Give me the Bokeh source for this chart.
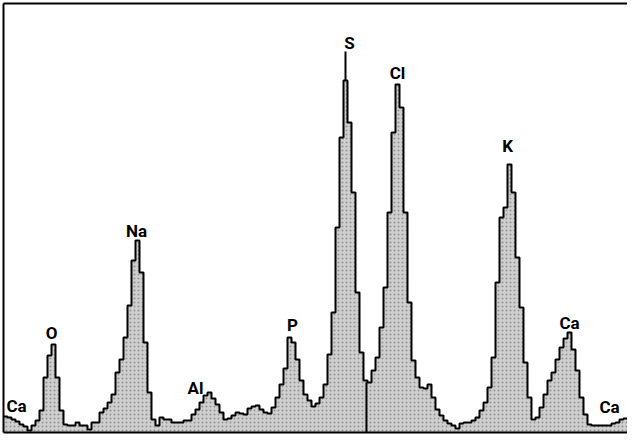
from bokeh.plotting import figure
from bokeh.models import Range1d, LinearAxis, FixedTicker
from bokeh.core.properties import value
from bokeh.embed import file_html
from bokeh.resources import INLINE

# EDS spectrum: channel start (keV), channel width (keV), counts per channel (arbitrary units)
channel_start_kev = 0.2125
channel_width_kev = 0.025
counts = [
    16, 15, 13, 11, 8, 6, 2, 7, 12, 22, 55, 77, 88, 55, 22, 8, 7, 7, 10, 7,
    7, 3, 10, 10, 20, 24, 30, 38, 60, 73, 95, 127, 172, 192, 160, 90, 40, 13, 7, 15,
    13, 13, 10, 10, 10, 12, 12, 18, 23, 30, 37, 40, 34, 28, 20, 13, 14, 17, 20, 19,
    18, 24, 26, 27, 23, 20, 19, 25, 35, 48, 64, 95, 90, 73, 52, 38, 32, 26, 29, 35,
    48, 78, 120, 205, 295, 352, 310, 240, 140, 80, 52, 50, 62, 75, 105, 145, 220, 300, 348, 325,
    220, 130, 72, 55, 45, 44, 48, 35, 23, 17, 12, 9, 7, 4, 9, 10, 10, 12, 15, 22,
    30, 45, 75, 150, 215, 225, 268, 240, 175, 125, 70, 35, 13, 15, 25, 38, 52, 60, 73, 85,
    94, 100, 83, 62, 35, 18, 8, 7, 7, 7, 7, 7, 9, 10, 13, 14,
]

# peak labels
label_names = ["Ca", "O", "Na", "Al", "P", "S", "Cl", "K", "Ca", "Ca"]
label_kev = [0.294, 0.513, 1.044, 1.413, 2.019, 2.375, 2.675, 3.363, 3.75, 4.0]
label_counts = [27, 100, 202, 45, 108, 390, 360, 287, 110, 26]

# marker lines (peak marker above S, cursor between S and Cl)
marker_kev = [2.35, 2.481]
marker_bottom = [352, 0]
marker_top = [381, 50]

x_start = channel_start_kev
x_end = channel_start_kev + channel_width_kev * len(counts)

edges = [channel_start_kev + channel_width_kev * i for i in range(len(counts) + 1)]
vals = counts + [counts[-1]]

p = figure(width=627, height=437, output_backend="svg", toolbar_location=None,
           x_range=Range1d(x_start, x_end), y_range=Range1d(0, 429),
           min_border_left=3, min_border_right=0, min_border_top=3, min_border_bottom=5,
           background_fill_color="white", border_fill_color="white")
p.outline_line_color = None
p.grid.visible = False

def style_axis(ax):
    ax.ticker = FixedTicker(ticks=[])
    ax.major_tick_out = 0
    ax.major_tick_in = 0
    ax.minor_tick_out = 0
    ax.minor_tick_in = 0
    ax.major_label_text_font_size = "0px"
    ax.major_label_standoff = 0
    ax.axis_line_width = 2
    ax.axis_line_color = "black"

for ax in p.xaxis + p.yaxis:
    style_axis(ax)
top_axis = LinearAxis()
style_axis(top_axis)
p.add_layout(top_axis, "above")

p.varea_step(x=edges, y1=[0] * len(vals), y2=vals, step_mode="after",
             fill_color="#cfcfcf", hatch_pattern=".", hatch_color="#555555",
             hatch_alpha=0.5, hatch_scale=4, hatch_weight=1)
p.step(x=edges, y=vals, mode="after", line_color="black", line_width=2)

p.segment(x0=marker_kev, y0=marker_bottom, x1=marker_kev, y1=marker_top,
          line_color="black", line_width=2)

p.text(x=label_kev, y=label_counts, text=label_names,
       text_font=value("'Liberation Sans Narrow', Roboto, sans-serif"),
       text_font_style="bold", text_font_size="17px", text_color="black",
       text_align="center", text_baseline="alphabetic")

open("out.html", "w").write(file_html(p, INLINE))
